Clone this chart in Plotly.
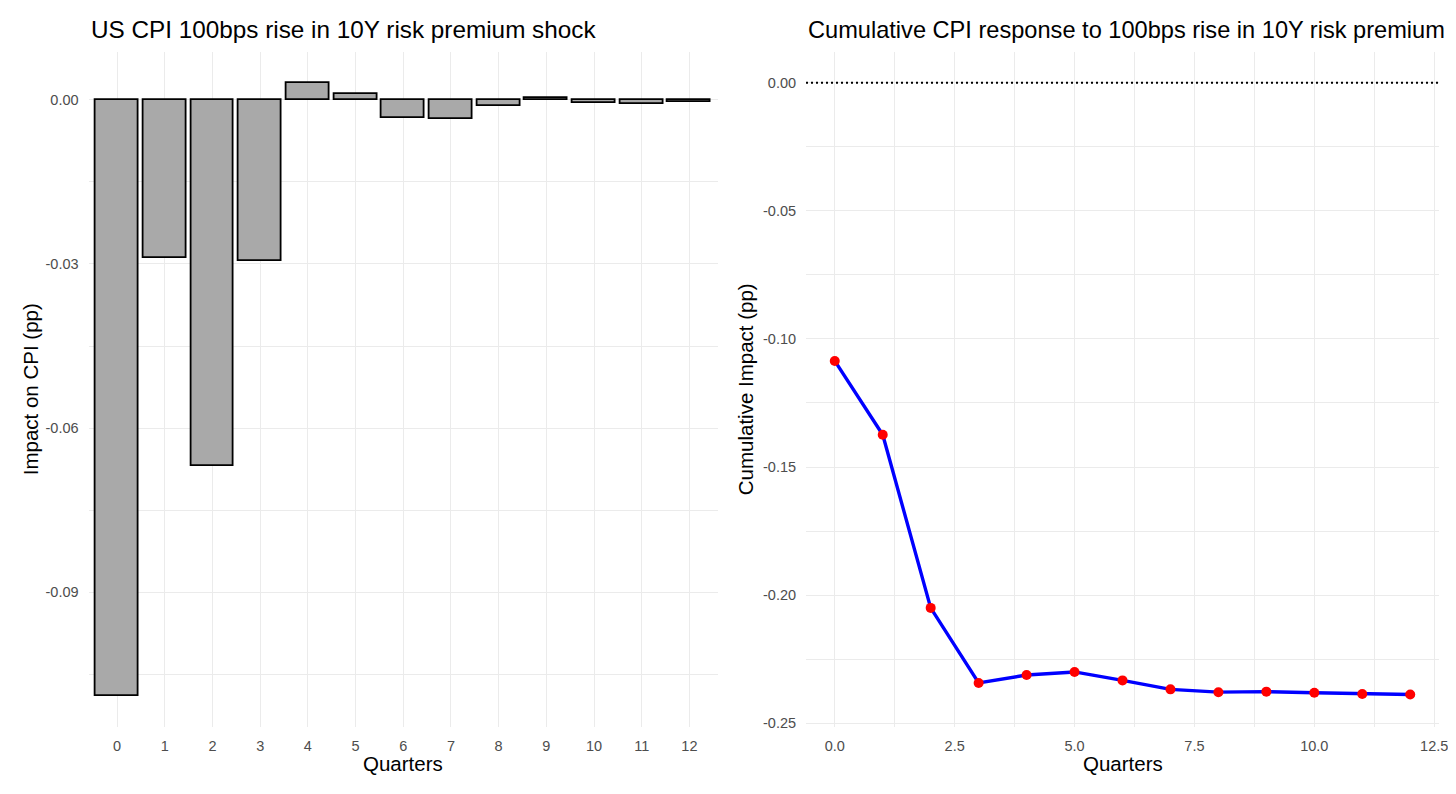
import plotly.graph_objects as go

quarters = list(range(13))
impact = [-0.1090, -0.0289, -0.0670, -0.0295, 0.0031, 0.0011, -0.0033, -0.0035,
          -0.0012, 0.0003, -0.0005, -0.0007, -0.0003]
cumulative = [-0.1086, -0.1374, -0.2050, -0.2343, -0.2312, -0.2300, -0.2333, -0.2368,
              -0.2379, -0.2377, -0.2381, -0.2386, -0.2388]
left_yticks = [0.0, -0.03, -0.06, -0.09]
left_ytext = ["0.00", "-0.03", "-0.06", "-0.09"]
right_yticks = [0.0, -0.05, -0.10, -0.15, -0.20, -0.25]
right_ytext = ["0.00", "-0.05", "-0.10", "-0.15", "-0.20", "-0.25"]
right_xticks = [0.0, 2.5, 5.0, 7.5, 10.0, 12.5]
right_xtext = ["0.0", "2.5", "5.0", "7.5", "10.0", "12.5"]

FONT = "Liberation Sans, Arial, sans-serif"
GRID = "#EBEBEB"
TICKC = "#4D4D4D"
OFF = 8  # page body margin on each side
W, H = 1456 - 2 * OFF, 794 - 2 * OFF


def px(X):
    return (X - OFF) / W


def py(Y):
    return 1 - (Y - OFF) / H


L0, L1 = px(88.5), px(718)
R0, R1 = px(806), px(1439)
YB, YT = py(726.5), py(52)

fig = go.Figure()
fig.add_trace(go.Bar(x=quarters, y=impact, width=0.9,
                     marker=dict(color="#A9A9A9", line=dict(color="black", width=1.8)),
                     xaxis="x", yaxis="y", showlegend=False))
fig.add_trace(go.Scatter(x=quarters, y=cumulative, mode="lines",
                         line=dict(color="#0000FF", width=3.4),
                         xaxis="x2", yaxis="y2", showlegend=False))
fig.add_trace(go.Scatter(x=quarters, y=cumulative, mode="markers",
                         marker=dict(color="#FF0000", size=10),
                         xaxis="x2", yaxis="y2", showlegend=False))

common_axis = dict(showline=False, zeroline=False, gridcolor=GRID, gridwidth=1.2,
                   automargin=False, ticklabeloverflow="allow",
                   tickfont=dict(family=FONT, size=14.5, color=TICKC),
                   ticks="outside", tickcolor="rgba(0,0,0,0)", ticklen=6)

fig.update_layout(
    width=W, height=H, autosize=False,
    margin=dict(l=0, r=0, t=0, b=0, pad=0),
    paper_bgcolor="white", plot_bgcolor="white",
    font=dict(family=FONT),
    bargap=0,
    xaxis=dict(domain=[L0, L1], anchor="y", range=[-0.6, 12.6],
               tickvals=quarters, ticktext=[str(q) for q in quarters], **common_axis),
    yaxis=dict(domain=[YB, YT], anchor="x", range=[-0.11455, 0.00875],
               tickvals=left_yticks, ticktext=left_ytext,
               minor=dict(dtick=0.015, tick0=0, gridcolor=GRID, gridwidth=0.7, showgrid=True),
               **common_axis),
    xaxis2=dict(domain=[R0, R1], anchor="y2", range=[-0.6, 12.6],
                tickvals=right_xticks, ticktext=right_xtext,
                minor=dict(tickvals=[1.25, 3.75, 6.25, 8.75, 11.25], gridcolor=GRID, gridwidth=0.7, showgrid=True),
                **common_axis),
    yaxis2=dict(domain=[YB, YT], anchor="x2", range=[-0.2513, 0.012],
                tickvals=right_yticks, ticktext=right_ytext,
                minor=dict(tickvals=[-0.025, -0.075, -0.125, -0.175, -0.225], gridcolor=GRID, gridwidth=0.7, showgrid=True),
                **common_axis),
    shapes=[dict(type="line", xref="x2 domain", yref="y2", x0=0, x1=1, y0=0, y1=0,
                 line=dict(color="black", width=1.8, dash="2px,3px"), layer="above")],
    annotations=[
        dict(text="US CPI 100bps rise in 10Y risk premium shock", xref="paper", yref="paper",
             x=px(89), y=py(30), xanchor="left", yanchor="middle", showarrow=False,
             font=dict(family=FONT, size=24.3, color="black")),
        dict(text="Cumulative CPI response to 100bps rise in 10Y risk premium", xref="paper", yref="paper",
             x=px(806), y=py(30), xanchor="left", yanchor="middle", showarrow=False,
             font=dict(family=FONT, size=23.6, color="black")),
        dict(text="Quarters", xref="paper", yref="paper", x=(L0 + L1) / 2, y=py(763),
             xanchor="center", yanchor="middle", showarrow=False,
             font=dict(family=FONT, size=20.5, color="black")),
        dict(text="Quarters", xref="paper", yref="paper", x=(R0 + R1) / 2, y=py(763),
             xanchor="center", yanchor="middle", showarrow=False,
             font=dict(family=FONT, size=20.5, color="black")),
        dict(text="Impact on CPI (pp)", xref="paper", yref="paper", x=px(30), y=(YB + YT) / 2,
             xanchor="center", yanchor="middle", textangle=-90, showarrow=False,
             font=dict(family=FONT, size=20.5, color="black")),
        dict(text="Cumulative Impact (pp)", xref="paper", yref="paper", x=px(745), y=(YB + YT) / 2,
             xanchor="center", yanchor="middle", textangle=-90, showarrow=False,
             font=dict(family=FONT, size=20.5, color="black")),
    ],
)

fig.write_html("out.html")
